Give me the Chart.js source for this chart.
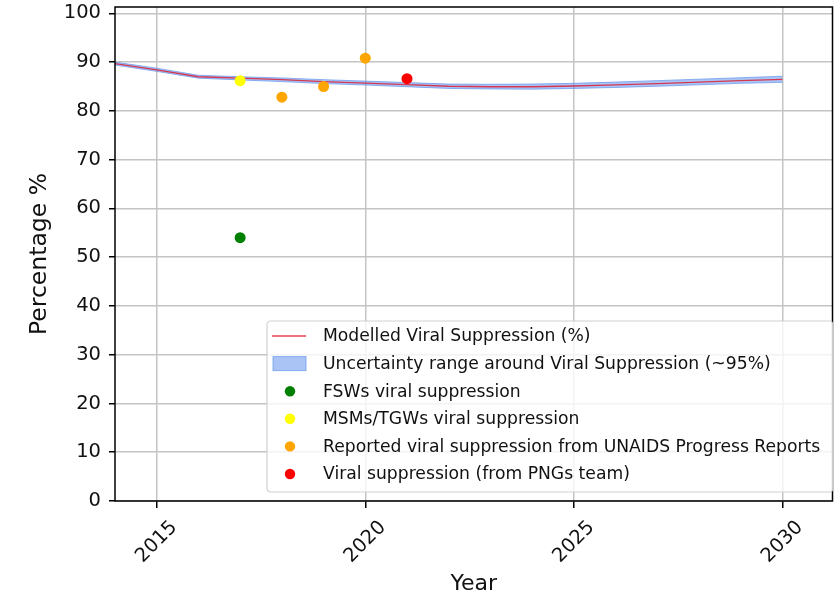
<!DOCTYPE html>
<html>
<head>
<meta charset="utf-8">
<script src="https://cdn.jsdelivr.net/npm/chart.js@4.4.1/dist/chart.umd.min.js"></script>
<style>
  html, body { margin: 0; padding: 0; background: #ffffff; }
  #wrap { width: 838px; height: 603px; }
</style>
</head>
<body>
<div id="wrap"><canvas id="c" width="838" height="603"></canvas></div>
<script>
// ---- Data ----
const years = [2014, 2015, 2016, 2017, 2018, 2019, 2020, 2021, 2022, 2023, 2024, 2025, 2026, 2027, 2028, 2029, 2030];
const modelled = [89.7, 88.4, 87.0, 86.7, 86.4, 86.0, 85.7, 85.4, 85.05, 84.95, 84.95, 85.1, 85.35, 85.6, 85.9, 86.2, 86.45];
const lowerBand = [89.4, 88.1, 86.7, 86.35, 86.0, 85.6, 85.3, 84.95, 84.6, 84.5, 84.45, 84.6, 84.8, 85.05, 85.35, 85.65, 85.85];
const upperBand = [90.0, 88.75, 87.3, 87.0, 86.75, 86.4, 86.1, 85.8, 85.5, 85.45, 85.5, 85.65, 85.9, 86.2, 86.5, 86.8, 87.1];

const fswYears = [2017];
const fswValues = [54.0];
const msmYears = [2017];
const msmValues = [86.2];
const unaidsYears = [2018, 2019, 2020];
const unaidsValues = [82.8, 85.0, 90.8];
const pngYears = [2021];
const pngValues = [86.6];

const xTicks = [2015, 2020, 2025, 2030];
const yTicks = [0, 10, 20, 30, 40, 50, 60, 70, 80, 90, 100];

const labels = {
  modelled: 'Modelled Viral Suppression (%)',
  band: 'Uncertainty range around Viral Suppression (~95%)',
  fsw: 'FSWs viral suppression',
  msm: 'MSMs/TGWs viral suppression',
  unaids: 'Reported viral suppression from UNAIDS Progress Reports',
  png: 'Viral suppression (from PNGs team)'
};
const legendOrder = ['modelled', 'band', 'fsw', 'msm', 'unaids', 'png'];
const xTitle = 'Year';
const yTitle = 'Percentage %';

// ---- helpers ----
const pts = (xs, ys) => xs.map((x, i) => ({ x: x, y: ys[i] }));
const FONT = "'DejaVu Sans', 'Liberation Sans', sans-serif";
const BAND_FILL = 'rgba(100,149,237,0.55)';
const BAND_EDGE = 'rgba(100,149,237,0.7)';
const LINE_COLOR = 'rgba(225,20,40,0.8)';

// frame + custom x tick labels
const framePlugin = {
  id: 'frame',
  afterDatasetsDraw(chart) {
    const { ctx, chartArea: a } = chart;
    ctx.save();
    ctx.strokeStyle = '#000';
    ctx.lineWidth = 1.5;
    ctx.strokeRect(a.left, a.top, a.right - a.left, a.bottom - a.top);
    ctx.restore();
  },
  afterDraw(chart) {
    const { ctx } = chart;
    const xs = chart.scales.x;
    ctx.save();
    ctx.fillStyle = '#111';
    ctx.font = "19.5px " + FONT;
    ctx.textAlign = 'center';
    ctx.textBaseline = 'middle';
    xs.ticks.forEach(t => {
      const px = xs.getPixelForValue(t.value);
      ctx.save();
      ctx.translate(px, chart.chartArea.bottom + 41);
      ctx.rotate(-Math.PI / 4);
      ctx.fillText(String(t.value), 0, 0);
      ctx.restore();
    });
    ctx.restore();
  }
};

// legend box in lower right of the plot
const legendPlugin = {
  id: 'boxLegend',
  afterDraw(chart) {
    const { ctx } = chart;
    const bx = 267, by = 321, bw = 566, bh = 171, r = 4;
    ctx.save();
    ctx.beginPath();
    ctx.moveTo(bx + r, by);
    ctx.lineTo(bx + bw - r, by);
    ctx.quadraticCurveTo(bx + bw, by, bx + bw, by + r);
    ctx.lineTo(bx + bw, by + bh - r);
    ctx.quadraticCurveTo(bx + bw, by + bh, bx + bw - r, by + bh);
    ctx.lineTo(bx + r, by + bh);
    ctx.quadraticCurveTo(bx, by + bh, bx, by + bh - r);
    ctx.lineTo(bx, by + r);
    ctx.quadraticCurveTo(bx, by, bx + r, by);
    ctx.closePath();
    ctx.fillStyle = 'rgba(255,255,255,0.8)';
    ctx.fill();
    ctx.strokeStyle = 'rgba(204,204,204,0.9)';
    ctx.lineWidth = 1.2;
    ctx.stroke();

    const entries = legendOrder.map(k => chart.data.datasets.find(d => d.label === labels[k]));
    const y0 = 336, step = 27.6;
    ctx.font = "17.2px " + FONT;
    ctx.textBaseline = 'middle';
    ctx.textAlign = 'left';
    entries.forEach((d, i) => {
      const y = y0 + i * step;
      if (d.legendKind === 'line') {
        ctx.beginPath();
        ctx.moveTo(272, y);
        ctx.lineTo(306, y);
        ctx.strokeStyle = d.borderColor;
        ctx.lineWidth = d.borderWidth;
        ctx.stroke();
      } else if (d.legendKind === 'patch') {
        ctx.fillStyle = d.backgroundColor;
        ctx.fillRect(273, y - 7, 33, 14);
        ctx.strokeStyle = d.borderColor;
        ctx.lineWidth = 1;
        ctx.strokeRect(273, y - 7, 33, 14);
      } else {
        ctx.beginPath();
        ctx.arc(290, y, 5.2, 0, Math.PI * 2);
        ctx.fillStyle = d.backgroundColor;
        ctx.fill();
      }
      ctx.fillStyle = '#111';
      ctx.fillText(d.label, 323, y + 1);
    });
    ctx.restore();
  }
};

const datasets = [
  { type: 'line', label: 'lower', data: pts(years, lowerBand), borderColor: BAND_EDGE, borderWidth: 1,
    backgroundColor: BAND_FILL, pointRadius: 0, fill: false, order: 3, tension: 0 },
  { type: 'line', label: labels.band, legendKind: 'patch', data: pts(years, upperBand), borderColor: BAND_EDGE, borderWidth: 1,
    backgroundColor: BAND_FILL, pointRadius: 0, fill: '-1', order: 3, tension: 0 },
  { type: 'line', label: labels.modelled, legendKind: 'line', data: pts(years, modelled), borderColor: LINE_COLOR, borderWidth: 1.3,
    pointRadius: 0, fill: false, order: 2, tension: 0 },
  { type: 'scatter', label: labels.fsw, legendKind: 'dot', data: pts(fswYears, fswValues), backgroundColor: '#008000', borderWidth: 0, pointRadius: 5.5, order: 1 },
  { type: 'scatter', label: labels.msm, legendKind: 'dot', data: pts(msmYears, msmValues), backgroundColor: '#ffff00', borderWidth: 0, pointRadius: 5.5, order: 1 },
  { type: 'scatter', label: labels.unaids, legendKind: 'dot', data: pts(unaidsYears, unaidsValues), backgroundColor: '#ffa500', borderWidth: 0, pointRadius: 5.5, order: 1 },
  { type: 'scatter', label: labels.png, legendKind: 'dot', data: pts(pngYears, pngValues), backgroundColor: '#ff0000', borderWidth: 0, pointRadius: 5.5, order: 1 }
];

new Chart(document.getElementById('c'), {
  data: { datasets: datasets },
  options: {
    responsive: false,
    animation: false,
    events: [],
    layout: { padding: { top: 7, right: 4, left: 0, bottom: 0 } },
    plugins: { legend: { display: false }, tooltip: { enabled: false } },
    scales: {
      x: {
        type: 'linear', position: 'bottom', min: 2014, max: 2031.2,
        afterBuildTicks: s => { s.ticks = xTicks.map(v => ({ value: v })); },
        afterFit: s => { s.height = 102; s.paddingLeft = 0; s.paddingRight = 0; },
        ticks: { display: false },
        grid: { color: '#c4c4c4', lineWidth: 1.5, drawTicks: true, tickLength: 7, tickColor: '#000', tickWidth: 1.5 },
        border: { display: false },
        title: { display: true, text: xTitle, color: '#111', font: { family: FONT, size: 22, lineHeight: 1.2 }, padding: { top: 0, bottom: 6 } }
      },
      y: {
        type: 'linear', position: 'left', min: 0, max: 101.3,
        afterBuildTicks: s => { s.ticks = yTicks.map(v => ({ value: v })); },
        afterFit: s => { s.width = 115; s.paddingTop = 0; s.paddingBottom = 0; },
        ticks: { color: '#111', font: { family: FONT, size: 19.5 }, padding: 8 },
        grid: { color: '#c4c4c4', lineWidth: 1.5, drawTicks: true, tickLength: 6, tickColor: '#000', tickWidth: 1.5 },
        border: { display: false },
        title: { display: true, text: yTitle, color: '#111', font: { family: FONT, size: 23.5, lineHeight: 1.2 }, padding: { top: 26, bottom: 0 } }
      }
    }
  },
  plugins: [framePlugin, legendPlugin]
});
</script>
</body>
</html>
